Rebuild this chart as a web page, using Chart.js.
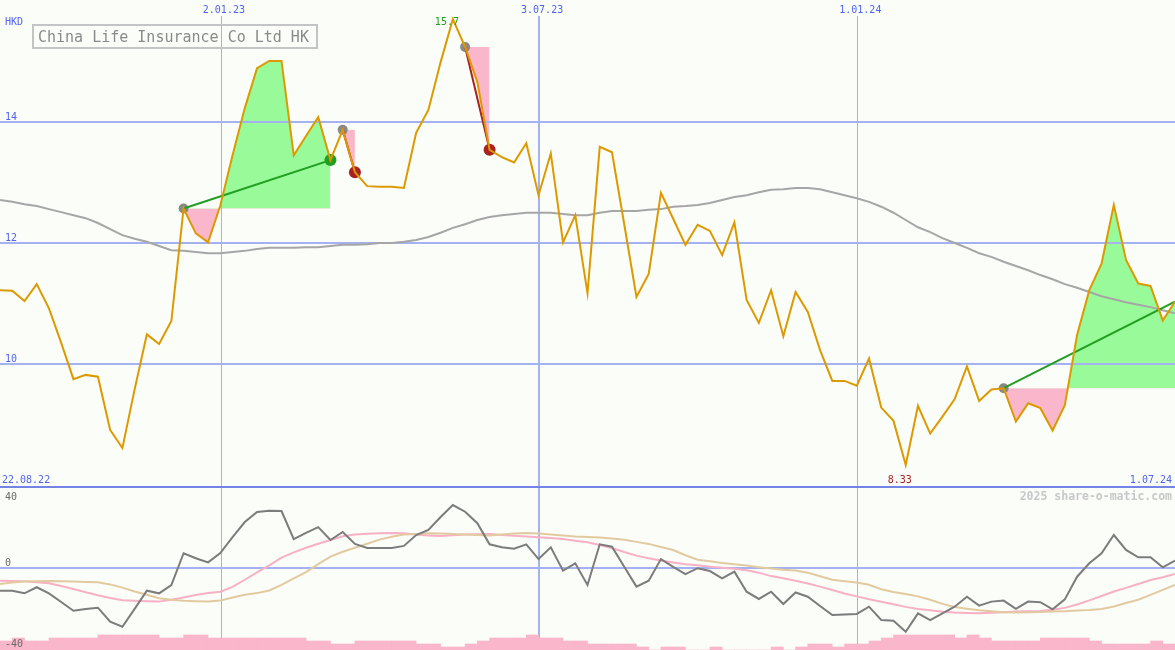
<!DOCTYPE html>
<html><head><meta charset="utf-8">
<script src="https://cdn.jsdelivr.net/npm/chart.js@4.4.1/dist/chart.umd.min.js"></script>
<style>
html,body{margin:0;padding:0;background:#fbfdf8;overflow:hidden;}
#wrap{position:relative;width:1175px;height:650px;}
canvas{display:block;}
</style></head><body>
<div id="wrap">
<canvas id="topChart" width="1175" height="488"></canvas>
<canvas id="botChart" width="1175" height="162"></canvas>
</div>
<script>
// ---------- data ----------
const title = 'China Life Insurance Co Ltd HK';
const currency = 'HKD';
const firstDate = '22.08.22';
const lastDate = '1.07.24';
const dateTickIndex = [18, 44, 70];
const dateTickLabels = ['2.01.23', '3.07.23', '1.01.24'];
const dateTickWidth = [1, 2, 1];
const priceTicks = [10, 12, 14];
const oscTicks = [40, 0, -40];
const watermark = '2025 share-o-matic.com';

const close = [11.22, 11.21, 11.04, 11.32, 10.92, 10.35, 9.75, 9.82, 9.79, 8.91,
  8.61, 9.58, 10.49, 10.33, 10.71, 12.57, 12.16, 12.01, 12.62, 13.45,
  14.23, 14.89, 15.01, 15.01, 13.45, 13.77, 14.08, 13.37, 13.87, 13.17,
  12.94, 12.93, 12.93, 12.91, 13.82, 14.20, 14.99, 15.70, 15.24, 14.66,
  13.54, 13.42, 13.33, 13.65, 12.79, 13.48, 12.01, 12.46, 11.17, 13.59,
  13.50, 12.31, 11.11, 11.49, 12.83, 12.40, 11.97, 12.30, 12.20, 11.80,
  12.34, 11.06, 10.68, 11.22, 10.46, 11.19, 10.86, 10.23, 9.72, 9.72,
  9.64, 10.09, 9.28, 9.06, 8.33, 9.31, 8.85, 9.13, 9.42, 9.96,
  9.39, 9.58, 9.60, 9.05, 9.35, 9.27, 8.90, 9.32, 10.48, 11.22,
  11.66, 12.63, 11.72, 11.33, 11.29, 10.72, 11.03];

const movingAvg = [12.71, 12.68, 12.64, 12.61, 12.56, 12.51, 12.46, 12.41, 12.33, 12.23,
  12.13, 12.07, 12.02, 11.95, 11.88, 11.87, 11.85, 11.83, 11.83, 11.85,
  11.87, 11.90, 11.92, 11.92, 11.92, 11.93, 11.93, 11.95, 11.97, 11.97,
  11.98, 12.00, 12.00, 12.02, 12.05, 12.10, 12.17, 12.25, 12.31, 12.38,
  12.43, 12.46, 12.48, 12.50, 12.50, 12.50, 12.48, 12.46, 12.46, 12.50,
  12.53, 12.53, 12.53, 12.55, 12.56, 12.60, 12.61, 12.63, 12.66, 12.71,
  12.76, 12.79, 12.84, 12.88, 12.89, 12.91, 12.91, 12.89, 12.84, 12.79,
  12.74, 12.68, 12.60, 12.50, 12.38, 12.26, 12.18, 12.08, 12.00, 11.92,
  11.83, 11.77, 11.69, 11.62, 11.55, 11.47, 11.40, 11.32, 11.26, 11.19,
  11.12, 11.07, 11.02, 10.98, 10.94, 10.89, 10.84];

const momentum = [-11.2, -11.2, -12.5, -9.5, -12.5, -16.8, -21.1, -20.2, -19.6, -26.5,
  -29.0, -20.2, -11.2, -12.5, -8.4, 7.3, 4.8, 2.8, 7.4, 15.3,
  22.7, 27.7, 28.3, 28.1, 14.3, 17.3, 20.2, 13.8, 17.8, 11.9,
  9.9, 9.9, 9.9, 10.9, 16.3, 18.8, 25.2, 31.1, 27.8, 22.1,
  11.7, 10.2, 9.5, 11.7, 4.4, 10.2, -1.3, 2.3, -8.4, 11.7,
  10.5, 0.6, -9.2, -6.3, 4.4, 0.6, -3.0, -0.1, -1.5, -5.1,
  -1.8, -11.7, -15.3, -11.7, -17.8, -12.1, -14.2, -18.8, -23.2, -23.0,
  -22.7, -19.1, -25.7, -26.0, -31.5, -22.4, -25.7, -22.4, -19.1, -14.2,
  -18.6, -16.6, -16.1, -20.2, -16.6, -16.9, -20.4, -15.5, -4.3, 2.3,
  7.3, 16.3, 8.9, 5.3, 5.3, 0.3, 3.6];

const signalFast = [-6.3, -6.4, -6.6, -7.0, -7.5, -8.9, -10.4, -12.0, -13.5, -14.8,
  -15.9, -16.2, -16.4, -16.6, -15.7, -14.6, -13.3, -12.3, -11.7, -9.3,
  -5.8, -2.2, 1.3, 5.1, 7.7, 10.0, 12.0, 13.8, 15.7, 16.5,
  16.9, 17.2, 17.3, 17.2, 16.5, 16.1, 15.8, 16.2, 16.6, 16.7,
  16.8, 16.3, 15.9, 15.5, 15.2, 14.8, 14.3, 13.5, 12.7, 11.4,
  9.9, 7.9, 6.1, 4.8, 3.7, 2.7, 1.9, 1.3, 0.6, 0.1,
  -0.4, -1.1, -2.3, -4.0, -5.1, -6.3, -7.7, -9.2, -10.9, -12.6,
  -14.0, -15.4, -16.7, -17.9, -19.2, -20.2, -20.9, -21.6, -22.0, -22.2,
  -22.4, -22.1, -21.8, -21.5, -21.4, -21.2, -20.6, -19.7, -18.0, -16.0,
  -13.8, -11.6, -9.8, -7.9, -5.9, -4.6, -3.0];

const signalSlow = [-7.9, -7.2, -6.7, -6.6, -6.4, -6.6, -6.7, -6.9, -7.0, -8.1,
  -9.7, -11.6, -13.2, -14.9, -15.7, -16.2, -16.4, -16.6, -16.1, -14.6,
  -13.2, -12.4, -11.1, -8.3, -5.1, -2.0, 1.9, 5.6, 8.0, 10.0,
  12.0, 14.0, 15.4, 16.5, 16.8, 17.1, 17.0, 16.8, 16.6, 16.3,
  16.1, 16.5, 17.0, 17.3, 17.0, 16.6, 16.0, 15.5, 15.3, 15.1,
  14.6, 14.0, 12.9, 11.9, 10.4, 8.9, 6.3, 4.1, 3.3, 2.5,
  1.8, 1.2, 0.4, -0.3, -0.9, -1.2, -2.3, -4.1, -5.8, -6.5,
  -7.2, -8.3, -10.5, -11.8, -12.8, -14.0, -15.7, -17.7, -19.3, -20.1,
  -20.9, -21.3, -21.8, -22.0, -21.8, -21.7, -21.5, -21.3, -21.0, -20.8,
  -20.2, -19.0, -17.3, -15.7, -13.3, -10.8, -8.4];

const volumeLevel = [3,4,3,3, 4,4,4,4, 5,5,5,5,5, 4,4, 5,5, 4,4,4,4,4,4,4,4, 3,3, 2,2,
  3,3,3,3,3, 2,2, 1,1, 2, 3, 4,4,4, 5, 4,4, 3,3, 2,2,2,2, 1, 0, 1,1, 0,0, 1, 0,0,0,0,
  1, 0, 1, 2,2, 1, 2,2, 3, 4, 5,5,5,5,5, 4, 5, 4, 3,3,3,3, 4,4,4,4, 3, 2,2,2,2, 3, 2];

const tradeEntry = [15, 28, 38, 82];
const tradeExit = [27, 29, 40, 96];
const tradeState = ['win', 'loss', 'loss', 'open'];

// ---------- styles ----------
const COL = {
  orange: '#dd9900', ma: '#a6a6a6', green: '#229e22', red: '#a82222', gray: '#888888',
  fillUp: '#98fa98', fillDown: '#fab6ca', grid: '#a4b2f2', sep: '#7383e6', label: '#5064f0',
  mom: '#7c7c7c', fast: '#f7b0c6', slow: '#e2caa0', bar: '#fab6ca', oscLabel: '#6a6a6a',
  title: '#8a8a8a', box: '#c4c4c4', water: '#c8c8c8', hi: '#229e22', lo: '#a82222'
};
const MONO = "'DejaVu Sans Mono', 'Liberation Mono', monospace";

function txt(ctx, s, x, y, color, font, align) {
  ctx.save();
  ctx.font = font; ctx.fillStyle = color;
  ctx.textAlign = align || 'left'; ctx.textBaseline = 'alphabetic';
  ctx.fillText(s, x, y);
  ctx.restore();
}
const pts = arr => arr.map((v, i) => ({x: i, y: v}));
const lastIdx = close.length - 1;

function xScaleCfg() {
  return {type: 'linear', min: 0, max: lastIdx, display: false, offset: false, grid: {offset: false}};
}
function drawDateLines(chart, y0) {
  const {ctx, chartArea, scales: {x}} = chart;
  ctx.save();
  ctx.fillStyle = COL.grid;
  dateTickIndex.forEach((idx, k) => {
    const px = Math.ceil(x.getPixelForValue(idx));
    const w = dateTickWidth[k];
    ctx.fillRect(px - (w - 1), y0, w, chartArea.bottom - y0);
  });
  ctx.restore();
}

// ---------- top chart ----------
const topDatasets = [];
topDatasets.push({label: 'close', data: pts(close), borderColor: COL.orange, borderWidth: 2,
  pointRadius: 0, fill: false, tension: 0, order: 0});
tradeEntry.forEach((s, k) => {
  const e = tradeExit[k];
  const col = tradeState[k] === 'loss' ? COL.red : COL.green;
  topDatasets.push({label: 'signal' + k, data: [{x: s, y: close[s]}, {x: e, y: close[e]}],
    borderColor: col, borderWidth: 2, pointRadius: 0, fill: false, order: 1});
  topDatasets.push({label: 'area' + k, data: close.slice(s, e + 1).map((v, j) => ({x: s + j, y: v})),
    borderColor: 'rgba(0,0,0,0)', borderWidth: 1, pointRadius: 0, backgroundColor: COL.fillUp,
    fill: {target: {value: close[s]}, above: COL.fillUp, below: COL.fillDown}, order: 5});
});
topDatasets.push({label: 'entry', data: tradeEntry.map(s => ({x: s, y: close[s]})), showLine: false,
  pointRadius: 5, pointBackgroundColor: COL.gray, pointBorderWidth: 0, order: 2});
const closedTrades = tradeExit.map((e, k) => ({e, k})).filter(o => tradeState[o.k] !== 'open');
topDatasets.push({label: 'exit', data: closedTrades.map(o => ({x: o.e, y: close[o.e]})), showLine: false,
  pointRadius: 6, pointBackgroundColor: closedTrades.map(o => tradeState[o.k] === 'win' ? COL.green : COL.red),
  pointBorderWidth: 0, order: 2});
topDatasets.push({label: 'ma', data: pts(movingAvg), borderColor: COL.ma, borderWidth: 2,
  pointRadius: 0, fill: false, order: 3});

const topDecor = {
  id: 'topDecor',
  beforeDatasetsDraw(chart) { drawDateLines(chart, 16); },
  afterDatasetsDraw(chart) {
    const {ctx, chartArea, scales: {x, y}} = chart;
    const f10 = '10px ' + MONO;
    ctx.save();
    ctx.fillStyle = COL.sep;
    ctx.fillRect(0, chartArea.bottom - 2, chart.width, 2);
    ctx.restore();
    y.ticks.forEach(t => txt(ctx, String(t.value), 5, Math.round(y.getPixelForValue(t.value)) - 2, COL.label, f10));
    txt(ctx, currency, 5, 25, COL.label, f10);
    dateTickIndex.forEach((idx, k) => txt(ctx, dateTickLabels[k], x.getPixelForValue(idx) - 17.5, 13, COL.label, f10));
    txt(ctx, firstDate, 2, chartArea.bottom - 5, COL.label, f10);
    txt(ctx, lastDate, chart.width - 3, chartArea.bottom - 5, COL.label, f10, 'right');
    // high / low
    let hiI = 0, loI = 0;
    close.forEach((v, i) => { if (v > close[hiI]) hiI = i; if (v < close[loI]) loI = i; });
    txt(ctx, String(close[hiI]), x.getPixelForValue(hiI) - 18, y.getPixelForValue(close[hiI]) + 6, COL.hi, f10);
    txt(ctx, String(close[loI]), x.getPixelForValue(loI) - 18, chartArea.bottom - 5, COL.lo, f10);
    // title box
    ctx.save();
    ctx.strokeStyle = COL.box; ctx.lineWidth = 2;
    ctx.strokeRect(33, 25, 284, 23);
    ctx.restore();
    txt(ctx, title, 38, 42, COL.title, '15px ' + MONO);
  }
};

new Chart(document.getElementById('topChart'), {
  type: 'line',
  data: {datasets: topDatasets},
  options: {
    responsive: false, animation: false, devicePixelRatio: 1, events: [],
    layout: {padding: 0, autoPadding: false},
    plugins: {legend: {display: false}, tooltip: {enabled: false}, filler: {drawTime: 'beforeDraw'}},
    scales: {
      x: xScaleCfg(),
      y: {
        type: 'linear', min: 14 - 366 / 60.5, max: 14 + 122 / 60.5,
        afterBuildTicks: s => { s.ticks = priceTicks.map(v => ({value: v})); },
        grid: {color: COL.grid, lineWidth: 2, drawTicks: false},
        border: {display: false},
        ticks: {display: false}
      }
    }
  },
  plugins: [topDecor]
});

// ---------- bottom chart ----------
const botDecor = {
  id: 'botDecor',
  beforeDatasetsDraw(chart) { drawDateLines(chart, 0); },
  afterDatasetsDraw(chart) {
    const {ctx, chartArea, scales: {y}} = chart;
    oscTicks.forEach(v => {
      let b = Math.round(y.getPixelForValue(v)) - 2;
      b = Math.max(b, chartArea.top + 12);
      b = Math.min(b, chartArea.bottom - 3);
      txt(ctx, String(v), 5, b, COL.oscLabel, '10px ' + MONO);
    });
    txt(ctx, watermark, chart.width - 3, chartArea.top + 12, COL.water, 'bold 11.5px ' + MONO, 'right');
  }
};

new Chart(document.getElementById('botChart'), {
  type: 'line',
  data: {datasets: [
    {label: 'momentum', data: pts(momentum), borderColor: COL.mom, borderWidth: 2, pointRadius: 0, order: 0},
    {label: 'fast', data: pts(signalFast), borderColor: COL.fast, borderWidth: 2, pointRadius: 0, order: 2},
    {label: 'slow', data: pts(signalSlow), borderColor: COL.slow, borderWidth: 2, pointRadius: 0, order: 1},
    {type: 'bar', label: 'volume', data: volumeLevel.map((v, i) => ({x: i + 0.5, y: v})), yAxisID: 'yv',
      backgroundColor: COL.bar, borderWidth: 0, barPercentage: 1, categoryPercentage: 1, order: 3}
  ]},
  options: {
    responsive: false, animation: false, devicePixelRatio: 1, events: [],
    layout: {padding: 0, autoPadding: false},
    plugins: {legend: {display: false}, tooltip: {enabled: false}},
    scales: {
      x: xScaleCfg(),
      y: {
        type: 'linear', min: -82 / 2.025, max: 80 / 2.025,
        afterBuildTicks: s => { s.ticks = [{value: 0}]; },
        grid: {color: COL.grid, lineWidth: 2, drawTicks: false},
        border: {display: false},
        ticks: {display: false}
      },
      yv: {type: 'linear', min: 0, max: 54, display: false, beginAtZero: true}
    }
  },
  plugins: [botDecor]
});
</script>
</body></html>
